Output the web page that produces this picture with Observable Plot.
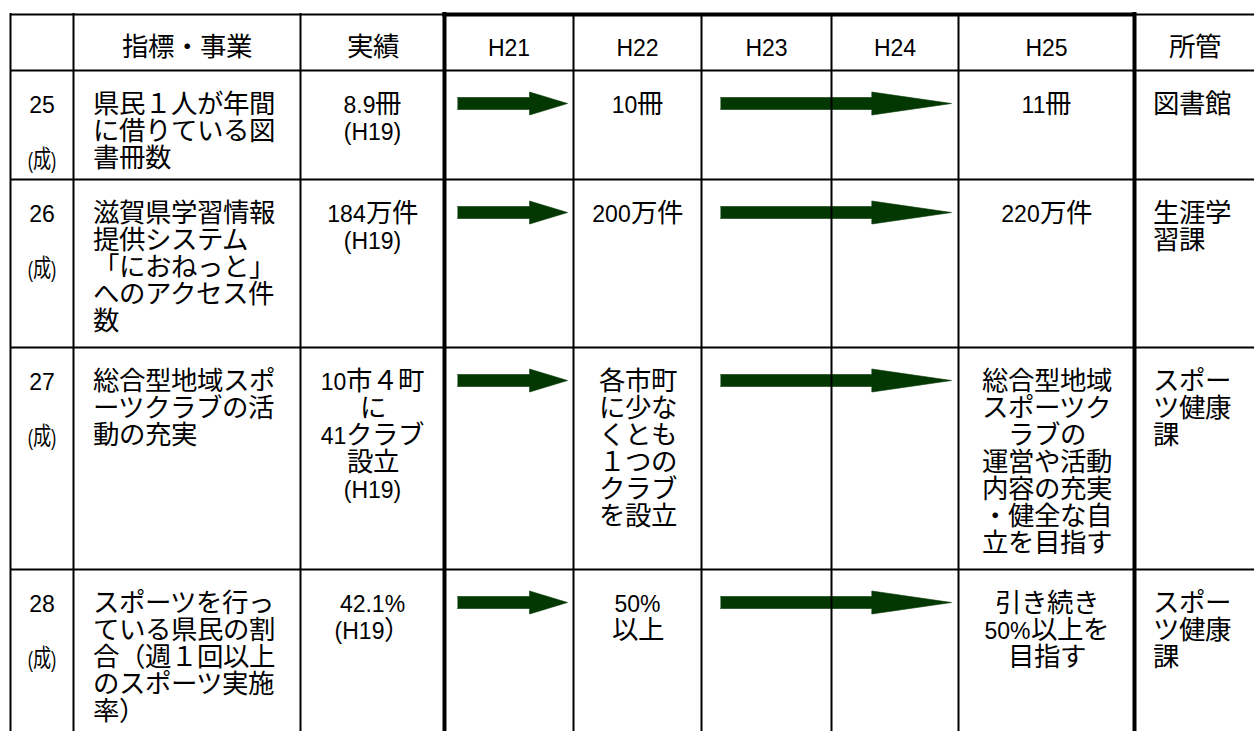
<!DOCTYPE html>
<html>
<head>
<meta charset="utf-8">
<script src="https://cdn.jsdelivr.net/npm/d3@7"></script>
<script src="https://cdn.jsdelivr.net/npm/@observablehq/plot@0.6"></script>
<style>
@font-face {
  font-family: "JPWide";
  src: local("Noto Sans CJK JP"), local("Noto Sans CJK JP Regular"), local("NotoSansCJKjp-Regular");
  size-adjust: 115%;
}
html, body { margin: 0; padding: 0; background: #fff; }
#chart svg { display: block; }
</style>
</head>
<body>
<div id="chart"></div>
<script>
// ---------------- data ----------------
const headers = ["", "指標・事業", "実績", "H21", "H22", "H23", "H24", "H25", "所管"];
const itemNumbers = ["25", "26", "27", "28"];
const itemMarks = ["(成)", "(成)", "(成)", "(成)"];
const indicators = [
  "県民１人が年間\nに借りている図\n書冊数",
  "滋賀県学習情報\n提供システム\n「におねっと」\nへのアクセス件\n数",
  "総合型地域スポ\nーツクラブの活\n動の充実",
  "スポーツを行っ\nている県民の割\n合（週１回以上\nのスポーツ実施\n率）"
];
const results = [
  "8.9冊\n(H19)",
  "184万件\n(H19)",
  "10市４町\nに\n41クラブ\n設立\n(H19)",
  "42.1%\n(H19）"
];
const targetsH22 = [
  "10冊",
  "200万件",
  "各市町\nに少な\nくとも\n１つの\nクラブ\nを設立",
  "50%\n以上"
];
const targetsH25 = [
  "11冊",
  "220万件",
  "総合型地域\nスポーツク\nラブの\n運営や活動\n内容の充実\n・健全な自\n立を目指す",
  "引き続き\n50%以上を\n目指す"
];
const departments = [
  "図書館",
  "生涯学\n習課",
  "スポー\nツ健康\n課",
  "スポー\nツ健康\n課"
];
// schedule arrows drawn in every row: first and last covered year column
const arrowSpans = [
  { from: "H21", to: "H21" },
  { from: "H23", to: "H24" }
];

// ---------------- layout ----------------
const W = 1254, H = 731;
const colEdges = [10, 73, 300, 444, 573, 701, 831, 958, 1134, 1254];
const rowEdges = [14, 70, 179, 347, 569, 731];
const thickColIdx = [3, 8];
const FONT = '"Liberation Sans", JPWide, "Noto Sans CJK JP", sans-serif';
const FS = 23, LH = 27;
const textTop = 40 - 0.71 * FS;   // first baseline 40px below row top
const padLeft = 19;
const arrowColor = "#033803";
const arrowInset = [[13, 6], [19, 7]];
const headFrac = 0.345, shaftHalf = 6, headHalf = 11.5, arrowOffset = 33;

const colCenter = i => (colEdges[i] + colEdges[i + 1]) / 2;
const col = name => headers.indexOf(name);

const headerCells = headers
  .map((t, i) => ({ text: t, x: colCenter(i), y: 55 - 0.32 * FS }))
  .filter(d => d.text);

const startCells = [], middleCells = [], markCells = [];
itemNumbers.forEach((n, r) => {
  const top = rowEdges[r + 1] + textTop;
  middleCells.push({ text: n, x: colCenter(0), y: top });
  middleCells.push({ text: results[r], x: colCenter(col("実績")), y: top });
  middleCells.push({ text: targetsH22[r], x: colCenter(col("H22")), y: top });
  middleCells.push({ text: targetsH25[r], x: colCenter(col("H25")), y: top });
  startCells.push({ text: indicators[r], x: colEdges[col("指標・事業")] + padLeft, y: top });
  startCells.push({ text: departments[r], x: colEdges[col("所管")] + padLeft - 1, y: top });
  markCells.push({ text: itemMarks[r], x: colCenter(0), y: rowEdges[r + 1] + 90 });
});

const arrowPts = [];
itemNumbers.forEach((_, r) => {
  arrowSpans.forEach((s, k) => {
    const x0 = colEdges[col(s.from)] + arrowInset[k][0];
    const x1 = colEdges[col(s.to) + 1] - arrowInset[k][1];
    const hx = x1 - (x1 - x0) * headFrac;
    const cy = rowEdges[r + 1] + arrowOffset;
    [[x0, cy - shaftHalf], [hx, cy - shaftHalf], [hx, cy - headHalf], [x1, cy],
     [hx, cy + headHalf], [hx, cy + shaftHalf], [x0, cy + shaftHalf]]
      .forEach(([x, y]) => arrowPts.push({ id: `${r}-${k}`, x, y }));
  });
});

const hLines = rowEdges.slice(1, -1).map(y => ({ y, x1: colEdges[0], x2: W }));
const topThin = [
  { y: rowEdges[0], x1: colEdges[0], x2: colEdges[thickColIdx[0]] },
  { y: rowEdges[0], x1: colEdges[thickColIdx[1]], x2: W }
];
const topThick = [{ y: rowEdges[0], x1: colEdges[thickColIdx[0]] - 2, x2: colEdges[thickColIdx[1]] + 2 }];
const thinCols = colEdges.slice(0, -1).filter((_, i) => !thickColIdx.includes(i));
const thickCols = thickColIdx.map(i => colEdges[i]);

const plot = Plot.plot({
  width: W, height: H, margin: 0,
  x: { domain: [0, W], range: [0, W], axis: null },
  y: { domain: [0, H], range: [0, H], axis: null },
  style: { background: "#fff", color: "#000", fontFamily: FONT, fontSize: FS + "px" },
  marks: [
    Plot.line(arrowPts, { x: "x", y: "y", z: "id", fill: arrowColor, stroke: arrowColor, strokeWidth: 0.6, curve: "linear" }),
    Plot.ruleY(hLines, { y: "y", x1: "x1", x2: "x2", stroke: "#000", strokeWidth: 2 }),
    Plot.ruleY(topThin, { y: "y", x1: "x1", x2: "x2", stroke: "#000", strokeWidth: 2 }),
    Plot.ruleY(topThick, { y: "y", x1: "x1", x2: "x2", stroke: "#000", strokeWidth: 4 }),
    Plot.ruleX(thinCols, { x: d => d, y1: rowEdges[0] - 1, y2: H, stroke: "#000", strokeWidth: 2 }),
    Plot.ruleX(thickCols, { x: d => d, y1: rowEdges[0] - 2, y2: H, stroke: "#000", strokeWidth: 4 }),
    Plot.text(headerCells, { x: "x", y: "y", text: "text", fontSize: FS, fontFamily: FONT, lineAnchor: "middle", fill: "#000" }),
    Plot.text(middleCells, { x: "x", y: "y", text: "text", fontSize: FS, fontFamily: FONT, lineAnchor: "top", lineHeight: LH / FS, textAnchor: "middle", fill: "#000" }),
    Plot.text(startCells, { x: "x", y: "y", text: "text", fontSize: FS, fontFamily: FONT, lineAnchor: "top", lineHeight: LH / FS, textAnchor: "start", fill: "#000" }),
    Plot.text(markCells, { x: "x", y: "y", text: "text", fontSize: 22, fontFamily: FONT, lineAnchor: "middle", textAnchor: "middle", fill: "#000" })
  ]
});

// narrow the "(成)" markers like the reference
d3.select(plot).selectAll("text")
  .filter(function () { return this.textContent === "(成)"; })
  .attr("transform", function () {
    const t = this.getAttribute("transform");
    return (t ? t + " " : "") + "scale(0.72,1)";
  });

document.getElementById("chart").appendChild(plot);
</script>
</body>
</html>
